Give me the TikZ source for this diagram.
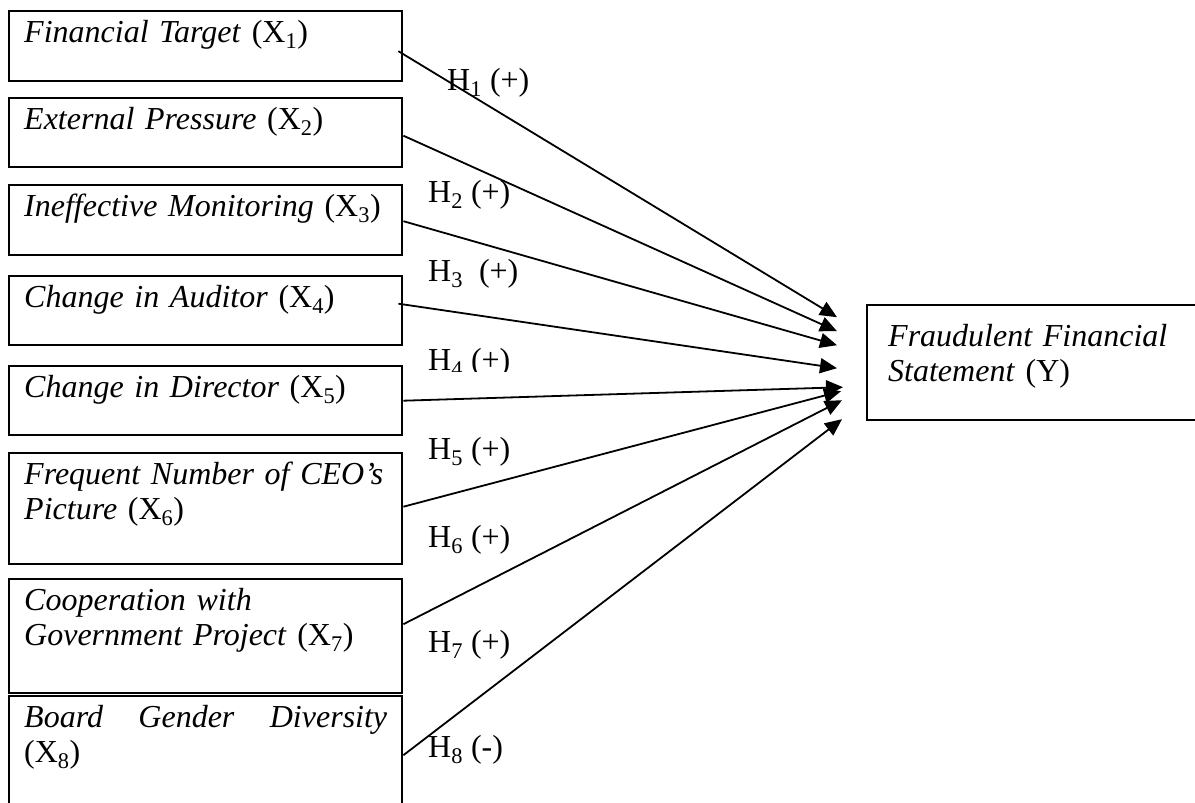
\documentclass[tikz,border=0pt]{standalone}
\usepackage{fontspec}
\setmainfont{Liberation Serif}
\usetikzlibrary{arrows.meta}

\begin{document}
\begin{tikzpicture}[x=1pt, y=-1pt,
  varbox/.style={draw, line width=2.4pt, anchor=north west, inner xsep=15pt, inner ysep=0pt,
    text width=363pt, align=left, font=\fontsize{32}{35}\selectfont,
    text height=31pt, text depth=#1},
  hyp/.style={anchor=base west, inner sep=0pt, font=\fontsize{32}{35}\selectfont},
  link/.style={line width=1.8pt, -{Triangle[length=17pt, width=15pt]}}]

 \path[use as bounding box, clip] (0,0) rectangle (1195,803);
 \fill[white] (0,0) rectangle (1195,803);

 % variables
 \node[varbox=39pt] (x1) at (8,10) {\textit{Financial Target} (X\textsubscript{1})};
 \node[varbox=38pt] (x2) at (8,97) {\textit{External Pressure} (X\textsubscript{2})};
 \node[varbox=39pt] (x3) at (8,184) {\textit{Ineffective Monitoring} (X\textsubscript{3})};
 \node[varbox=38pt] (x4) at (8,275) {\textit{Change in Auditor} (X\textsubscript{4})};
 \node[varbox=38pt] (x5) at (8,365) {\textit{Change in Director} (X\textsubscript{5})};
 \node[varbox=80pt] (x6) at (8,452) {\textit{Frequent Number of CEO’s}\\ \textit{Picture} (X\textsubscript{6})};
 \node[varbox=83pt] (x7) at (8,578) {\textit{Cooperation with}\\ \textit{Government Project} (X\textsubscript{7})};
 \node[varbox=99pt, align=justify] (x8) at (8,695) {\textit{Board Gender Diversity} (X\textsubscript{8})};

 \node[varbox=74pt, text height=41pt, inner xsep=21pt, text width=360pt] (y) at (866,304)
   {\textit{Fraudulent Financial}\\ \textit{Statement} (Y)};

 % hypotheses
 \node[hyp] (h1) at (447,90) {H\textsubscript{1} (+)};
 \node[hyp] (h2) at (428,202) {H\textsubscript{2} (+)};
 \node[hyp] (h3) at (428,281) {H\textsubscript{3}\ \ (+)};
 \begin{scope}
  \clip (420,340) rectangle (530,371);
  \node[hyp] (h4) at (428,370) {H\textsubscript{4} (+)};
 \end{scope}
 \node[hyp] (h5) at (428,459) {H\textsubscript{5} (+)};
 \node[hyp] (h6) at (428,547) {H\textsubscript{6} (+)};
 \node[hyp] (h7) at (428,652) {H\textsubscript{7} (+)};
 \node[hyp] (h8) at (428,757) {H\textsubscript{8} (-)};

 % arrows
 \draw[link] ([shift={(-5,5)}]x1.east) -- ([shift={(-29,-45.5)}]y.west);
 \draw[link] ([shift={(0,3)}]x2.east) -- ([shift={(-29,-31.5)}]y.west);
 \draw[link] ([shift={(0,1)}]x3.east) -- ([shift={(-29,-17.5)}]y.west);
 \draw[link] ([shift={(-5,-7)}]x4.east) -- ([shift={(-29,5.5)}]y.west);
 \draw[link] (x5.east) -- ([shift={(-23,24.5)}]y.west);
 \draw[link] ([shift={(0,-2)}]x6.east) -- ([shift={(-25,28.5)}]y.west);
 \draw[link] ([shift={(0,-12)}]x7.east) -- ([shift={(-24,37.5)}]y.west);
 \draw[link] ([shift={(0,-6)}]x8.east) -- ([shift={(-24,56.5)}]y.west);
\end{tikzpicture}
\end{document}
